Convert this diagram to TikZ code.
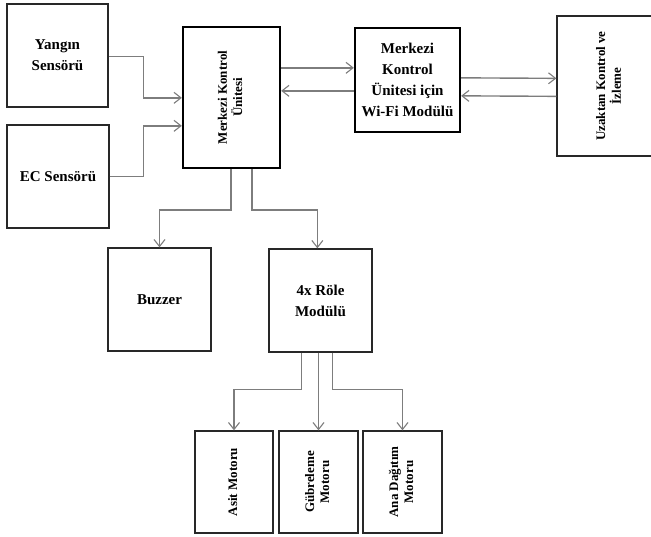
\documentclass[tikz,border=0pt]{standalone}
\usepackage{fontspec}
\setmainfont{Liberation Serif}
\usepackage{graphicx}
\usetikzlibrary{arrows.meta,calc}
\definecolor{linegray}{RGB}{125,125,125}
\definecolor{boxline}{RGB}{40,40,40}
\tikzset{
  box/.style={draw=boxline, line width=1.3pt, rectangle, inner sep=0pt, align=center,
    font=\fontsize{15}{21}\selectfont\bfseries},
  thickbox/.style={box, draw=black, line width=2.3pt},
  arr/.style={draw=linegray, line width=1.4pt,
    -{Straight Barb[length=7pt,width=11pt,line width=1.1pt]}},
}
\newcommand{\rottext}[1]{\rotatebox{90}{\fontsize{13}{15}\selectfont\bfseries\begin{tabular}{@{}c@{}}#1\end{tabular}}}
\begin{document}
\begin{tikzpicture}[x=1pt,y=-1pt]
\useasboundingbox (0,0) rectangle (651,537);
\clip (0,0) rectangle (651,537);
% boxes
\node[box, minimum width=101pt, minimum height=103pt] (Y) at (57.5,55.5) {Yangın\\Sensörü};
\node[box, minimum width=102pt, minimum height=103pt] (EC) at (58,176.5) {EC Sensörü};
\node[thickbox, minimum width=97pt, minimum height=141pt] (MK) at (231.5,97.5) {\rottext{Merkezi Kontrol\\Ünitesi}};
\node[thickbox, minimum width=105pt, minimum height=104pt] (WF) at (407.5,80) {Merkezi\\Kontrol\\Ünitesi için\\Wi-Fi Modülü};
\node[box, minimum width=106pt, minimum height=140pt] (UZ) at (610,86) {\rottext{Uzaktan Kontrol ve\\İzleme}};
\node[box, minimum width=103pt, minimum height=103pt] (BZ) at (159.5,299.5) {Buzzer};
\node[box, minimum width=103pt, minimum height=103pt] (RL) at (320.5,300.5) {4x Röle\\Modülü};
\node[box, minimum width=78pt, minimum height=102pt] (AS) at (234,482) {\rottext{Asit Motoru}};
\node[box, minimum width=79pt, minimum height=102pt] (GB) at (318.5,482) {\rottext{Gübreleme\\Motoru}};
\node[box, minimum width=79pt, minimum height=102pt] (AN) at (402.5,482) {\rottext{Ana Dağıtım\\Motoru}};
% connectors
\draw[arr] ($(Y.north east)+(0,53)$) -- ++(35,0) |- ($(MK.north west)+(0,72)$);
\draw[arr] (EC.east) -- ++(34,0) |- ($(MK.north west)+(0,100)$);
\draw[arr] ($(MK.north east)+(0,42)$) -- ($(WF.north west)+(0,41)$);
\draw[arr] ($(WF.north west)+(0,64)$) -- ($(MK.north east)+(0,65)$);
\draw[arr] ($(WF.north east)+(0,51)$) -- ($(UZ.north west)+(0,63)$);
\draw[arr] ($(UZ.north west)+(0,81)$) -- ($(WF.north east)+(0,69)$);
\draw[arr] ($(MK.south west)+(49,0)$) -- ++(0,41) -| (BZ.north);
\draw[arr] ($(MK.south west)+(70,0)$) -- ++(0,41) -| ($(RL.north west)+(49,0)$);
\draw[arr] ($(RL.south west)+(33,0)$) -- ++(0,37) -| (AS.north);
\draw[arr] (GB.north |- RL.south) -- (GB.north);
\draw[arr] ($(RL.south west)+(64,0)$) -- ++(0,37) -| (AN.north);
\end{tikzpicture}
\end{document}
